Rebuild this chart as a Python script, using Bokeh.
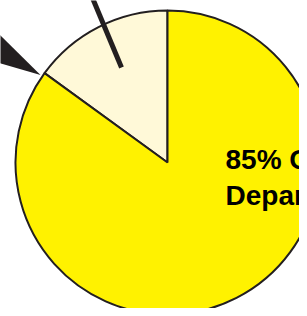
import numpy as np
from bokeh.plotting import figure
from bokeh.models import Range1d, ColumnDataSource
from bokeh.core.properties import value
from bokeh.embed import file_html
from bokeh.resources import INLINE

# data
labels = ["Other", "Of Department"]
shares = [15, 85]
colors = ["#FFF9D8", "#FFF200"]
label_lines = ["85% Of", "Department"]

OUTLINE = "#231F20"
# reference-pixel coordinate system (y flipped)
H = 316
def Y(y):
    return H - y

W_PX, H_PX = 299, 308
p = figure(width=W_PX, height=H_PX, output_backend="svg", toolbar_location=None,
           x_range=Range1d(0, W_PX), y_range=Range1d(Y(H_PX), Y(0)),
           min_border=0, outline_line_color=None)
p.axis.visible = False
p.grid.visible = False
p.background_fill_color = "white"
p.border_fill_color = "white"

cx, cy, r = 167, Y(162), 152
frac = np.array(shares, dtype=float) / sum(shares)
ends = np.pi / 2 + np.cumsum(frac) * 2 * np.pi
starts = ends - frac * 2 * np.pi
src = ColumnDataSource(dict(start=starts, end=ends, color=colors, label=labels))
p.wedge(x=cx, y=cy, radius=r, start_angle="start", end_angle="end",
        fill_color="color", line_color=OUTLINE, line_width=2, source=src)

# leader line
p.line(x=[121, 89.7], y=[Y(67), Y(-8)], line_color=OUTLINE, line_width=5, line_cap="butt")
# arrowhead
p.patch(x=[-10, 40, -10], y=[Y(25), Y(74.5), Y(60)], fill_color=OUTLINE, line_color=None)

p.text(x=[225, 225], y=[Y(159), Y(195)], text=label_lines,
       text_font=value("Liberation Sans"), text_font_style="bold",
       text_font_size="28px", text_color="black",
       text_align="left", text_baseline="alphabetic")

open("out.html", "w").write(file_html(p, INLINE))
